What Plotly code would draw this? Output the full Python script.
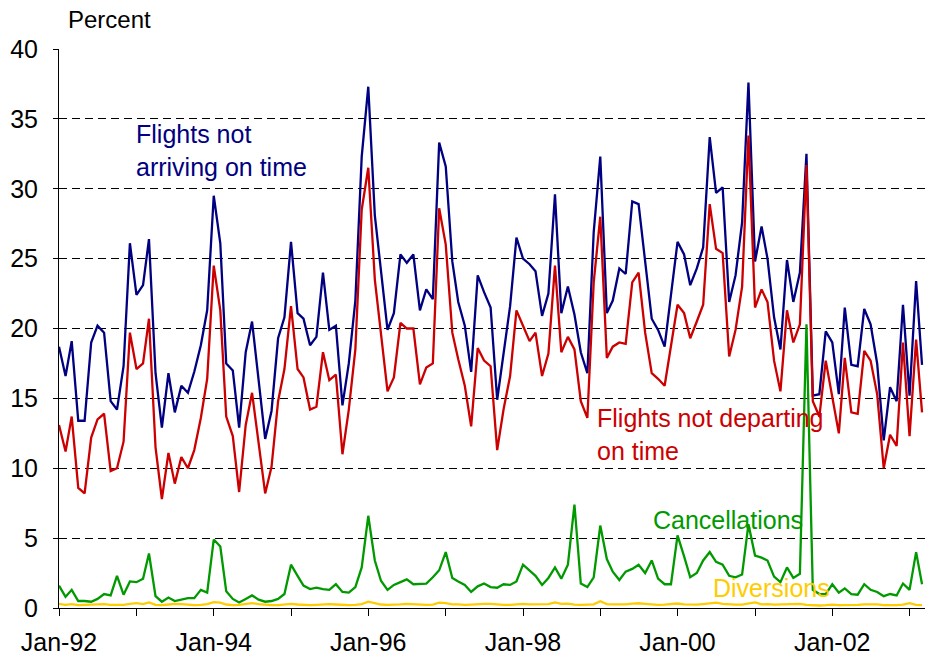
import pandas as pd
import plotly.graph_objects as go

months = pd.date_range("1992-01-01", periods=135, freq="MS")

not_arriving = [
    18.7, 16.6, 19.1, 13.4, 13.4, 19.0, 20.2, 19.7, 14.8, 14.2, 17.3, 26.1,
    22.4, 23.1, 26.4, 16.8, 12.9, 16.8, 14.0, 15.9, 15.4, 16.9, 18.8, 21.3,
    29.5, 26.1, 17.5, 17.0, 12.9, 18.3, 20.5, 16.3, 12.1, 14.1, 19.3, 20.8,
    26.2, 21.1, 20.7, 18.8, 19.4, 24.0, 19.9, 20.2, 14.5, 17.5, 22.0, 32.3,
    37.3, 28.1, 24.0, 19.9, 21.1, 25.3, 24.7, 25.3, 21.3, 22.8, 22.1, 33.3,
    31.6, 24.8, 21.9, 20.2, 16.9, 23.8, 22.6, 21.5, 14.9, 18.3, 21.6, 26.5,
    25.0, 24.6, 24.1, 20.9, 22.5, 29.6, 21.1, 23.0, 21.0, 18.3, 16.8, 26.9,
    32.3, 21.1, 22.0, 24.3, 23.9, 29.1, 28.9, 24.8, 20.7, 19.9, 18.7, 22.4,
    26.2, 25.3, 23.1, 24.3, 25.8, 33.7, 29.7, 30.1, 21.9, 23.8, 27.6, 37.6,
    24.8, 27.3, 25.0, 20.8, 18.5, 24.9, 21.9, 24.0, 32.5, 15.2, 15.3, 19.8,
    19.0, 15.3, 21.5, 17.4, 17.3, 21.4, 20.3, 17.5, 12.0, 15.8, 14.8, 21.7,
    15.2, 23.4, 17.4,
]

not_departing = [
    13.1, 11.2, 13.7, 8.6, 8.2, 12.2, 13.5, 13.9, 9.8, 10.0, 11.9, 19.7,
    17.1, 17.5, 20.7, 11.5, 7.8, 11.1, 8.9, 10.8, 10.0, 11.3, 13.6, 16.4,
    24.5, 21.3, 13.7, 12.3, 8.3, 13.1, 15.4, 11.8, 8.2, 10.1, 14.8, 17.1,
    21.6, 17.1, 16.5, 14.2, 14.4, 18.3, 16.3, 16.7, 11.0, 14.2, 18.5, 28.5,
    31.5, 23.5, 19.5, 15.5, 16.5, 20.4, 20.0, 20.0, 16.0, 17.2, 17.5, 28.6,
    26.0, 19.7, 17.8, 15.9, 13.0, 18.6, 17.7, 17.3, 11.3, 14.2, 16.6, 21.3,
    20.2, 19.1, 19.7, 16.6, 18.2, 24.5, 18.3, 19.4, 18.5, 14.8, 13.6, 23.3,
    28.0, 17.9, 18.7, 19.0, 18.9, 23.3, 24.0, 19.7, 16.8, 16.4, 15.9, 18.8,
    21.7, 21.1, 19.3, 20.5, 21.7, 28.9, 25.7, 25.4, 18.0, 19.9, 23.0, 33.8,
    21.5, 22.8, 21.9, 17.7, 15.5, 21.3, 19.0, 20.3, 31.7, 14.8, 13.7, 17.7,
    15.2, 12.5, 17.9, 14.0, 13.9, 18.4, 17.7, 15.3, 10.0, 12.4, 11.6, 19.0,
    12.3, 19.2, 14.0,
]

cancellations = [
    1.6, 0.8, 1.3, 0.5, 0.5, 0.45, 0.65, 1.0, 0.9, 2.3, 0.95, 1.9,
    1.85, 2.1, 3.9, 0.85, 0.45, 0.75, 0.5, 0.6, 0.7, 0.7, 1.3, 1.1,
    4.9, 4.4, 1.2, 0.65, 0.4, 0.65, 0.9, 0.6, 0.45, 0.5, 0.65, 1.0,
    3.1, 2.3, 1.6, 1.35, 1.45, 1.35, 1.3, 1.7, 1.15, 1.1, 1.5, 2.9,
    6.6, 3.4, 1.95, 1.3, 1.65, 1.85, 2.05, 1.7, 1.75, 1.75, 2.2, 2.7,
    4.0, 2.15, 1.9, 1.65, 1.15, 1.55, 1.75, 1.5, 1.45, 1.7, 1.65, 1.9,
    3.1, 2.7, 2.3, 1.65, 2.15, 2.9, 2.1, 3.1, 7.4, 1.75, 1.5, 2.2,
    5.9, 3.5, 2.6, 2.0, 2.6, 2.8, 3.1, 2.5, 3.4, 2.1, 1.7, 1.7,
    5.2, 3.7, 2.2, 2.5, 3.4, 4.0, 3.3, 3.1, 2.3, 2.2, 2.4, 6.0,
    3.75, 3.6, 3.4, 2.25, 1.85, 2.9, 2.15, 2.45, 20.3, 1.3, 1.0, 1.0,
    1.7, 1.1, 1.4, 1.0, 0.95, 1.7, 1.3, 1.15, 0.85, 1.0, 0.9, 1.75,
    1.3, 4.0, 1.7,
]

diversions = [
    0.30, 0.22, 0.28, 0.20, 0.22, 0.25, 0.30, 0.28, 0.22, 0.20, 0.22, 0.30,
    0.35, 0.28, 0.40, 0.22, 0.20, 0.25, 0.30, 0.28, 0.22, 0.20, 0.22, 0.28,
    0.42, 0.38, 0.25, 0.20, 0.22, 0.26, 0.35, 0.28, 0.22, 0.20, 0.20, 0.25,
    0.30, 0.25, 0.22, 0.20, 0.22, 0.26, 0.28, 0.25, 0.22, 0.20, 0.22, 0.28,
    0.45, 0.32, 0.25, 0.22, 0.22, 0.26, 0.30, 0.28, 0.22, 0.22, 0.24, 0.38,
    0.35, 0.26, 0.26, 0.22, 0.24, 0.28, 0.30, 0.30, 0.24, 0.22, 0.22, 0.28,
    0.30, 0.26, 0.26, 0.24, 0.28, 0.40, 0.30, 0.32, 0.24, 0.22, 0.24, 0.26,
    0.48, 0.28, 0.26, 0.24, 0.26, 0.32, 0.34, 0.30, 0.24, 0.22, 0.24, 0.28,
    0.32, 0.26, 0.24, 0.24, 0.28, 0.32, 0.38, 0.30, 0.26, 0.24, 0.24, 0.30,
    0.40, 0.26, 0.28, 0.24, 0.26, 0.30, 0.32, 0.30, 0.22, 0.18, 0.18, 0.20,
    0.24, 0.20, 0.20, 0.20, 0.22, 0.26, 0.28, 0.26, 0.20, 0.18, 0.20, 0.24,
    0.34, 0.22, 0.20,
]

series_names = ["Flights not arriving on time", "Flights not departing on time",
                "Cancellations", "Diversions"]
series_colors = ["#000080", "#CC0000", "#009900", "#FFCC00"]
series_values = [not_arriving, not_departing, cancellations, diversions]

FONT = "Liberation Sans, Arial, sans-serif"
FS = 25

fig = go.Figure()
for name, color, vals in zip(series_names, series_colors, series_values):
    fig.add_trace(go.Scatter(x=months, y=vals, mode="lines", name=name,
                             line=dict(color=color, width=2.3)))

ann = [
    ("Flights not<br>arriving on time", "#000080", 0.087, 0.818),
    ("Flights not departing<br>on time", "#CC0000", 0.619, 0.3095),
    ("Cancellations", "#009900", 0.684, 0.157),
    ("Diversions", "#FFCC00", 0.753, 0.036),
]
for text, color, x, y in ann:
    fig.add_annotation(text=text, x=x, y=y, xref="paper", yref="paper",
                       xanchor="left", yanchor="middle", align="left",
                       showarrow=False, font=dict(family=FONT, size=FS, color=color))

fig.add_annotation(text="Percent", x=0.008, y=1.052, xref="paper", yref="paper",
                   xanchor="left", yanchor="middle", showarrow=False,
                   font=dict(family=FONT, size=FS - 1, color="#000000"))

fig.update_layout(
    width=927, height=658,
    margin=dict(l=59, r=2, t=49, b=50),
    paper_bgcolor="white", plot_bgcolor="white",
    showlegend=False,
    font=dict(family=FONT, size=FS, color="#000000"),
)
fig.update_xaxes(
    type="date", range=["1992-01-01", "2003-03-15"], automargin=False,
    tick0="1992-01-01", dtick="M24", tickformat="%b-%y",
    ticks="outside", ticklen=7, tickcolor="#000000", tickwidth=1,
    ticklabelstandoff=5,
    minor=dict(dtick="M12", ticks="outside", ticklen=7, tickcolor="#000000", showgrid=False),
    showline=True, linecolor="#000000", linewidth=1,
    showgrid=False, zeroline=False,
)
fig.update_yaxes(
    range=[0, 40], dtick=5, tick0=0, automargin=False,
    ticks="outside", ticklen=5, tickcolor="#000000",
    ticklabelstandoff=10,
    showline=True, linecolor="#000000", linewidth=1,
    showgrid=True, gridcolor="#000000", gridwidth=1, griddash="8px,5px",
    zeroline=False,
)

# remove the default page margin so the figure fills the window exactly
fig.write_html(
    "out.html",
    config={"displayModeBar": False},
    post_script="document.body.style.margin='0';document.documentElement.style.overflow='hidden';",
)
